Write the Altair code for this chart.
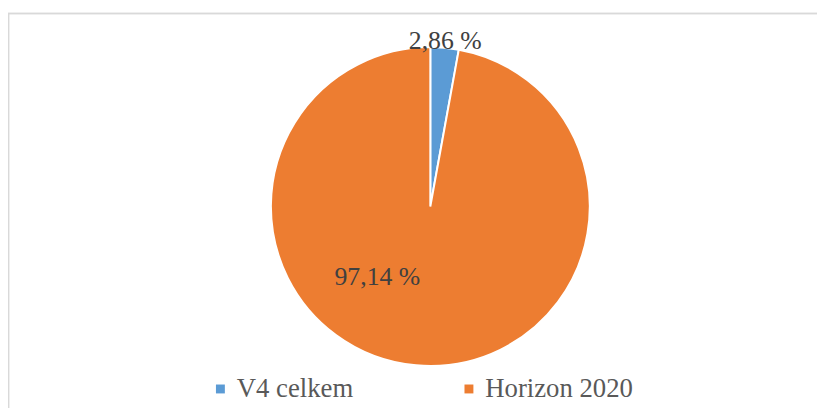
import altair as alt
import pandas as pd

categories = ["V4 celkem", "Horizon 2020"]
shares = [2.86, 97.14]
labels = ["2,86 %", "97,14 %"]
order = [0, 1]
colors = ["#5B9BD5", "#ED7D31"]

df = pd.DataFrame({"cat": categories, "share": shares, "label": labels, "ord": order})

CX, CY = 426.5, 198.5
FONT = "Liberation Serif"

base = alt.Chart(df)

arcs = base.mark_arc(radius=161, stroke="white", strokeWidth=2).encode(
    theta=alt.Theta("share:Q", stack=True),
    order=alt.Order("ord:Q"),
    color=alt.Color(
        "cat:N",
        scale=alt.Scale(domain=categories, range=colors),
        legend=alt.Legend(
            title=None,
            orient="none",
            legendX=201,
            legendY=369,
            direction="horizontal",
            symbolType="square",
            symbolSize=81,
            symbolStrokeWidth=0,
            labelFont=FONT,
            labelFontSize=27,
            labelColor="#595959",
            labelOffset=3,
            labelLimit=400,
            columnPadding=103,
            padding=0,
        ),
    ),
    x=alt.value(CX),
    y=alt.value(CY),
)

def label_layer(cat, radius, dx=0, dy=0):
    return (
        base.transform_stack(
            stack="share", as_=["s0", "s1"], groupby=[], sort=[alt.SortField("ord")]
        )
        .transform_calculate(mid="(datum.s0 + datum.s1) / 2")
        .transform_filter(alt.datum.cat == cat)
        .mark_text(
            radius=radius, dx=dx, dy=dy, font=FONT, fontSize=26, color="#404040",
            align="center", baseline="middle",
        )
        .encode(
            theta=alt.Theta("mid:Q", scale=alt.Scale(domain=[0, 100])),
            text="label:N",
            x=alt.value(CX),
            y=alt.value(CY),
        )
    )

lab_v4 = label_layer("V4 celkem", 168)
lab_h = label_layer("Horizon 2020", 89, dx=-45.5, dy=-17)

border_top = base.mark_rule(color="#d9d9d9", strokeWidth=1.5).encode(
    x=alt.value(0), x2=alt.value(817), y=alt.value(3.5), y2=alt.value(3.5)
)
border_left = base.mark_rule(color="#d9d9d9", strokeWidth=1.5).encode(
    x=alt.value(0.5), x2=alt.value(0.5), y=alt.value(3), y2=alt.value(402)
)

chart = (
    alt.layer(border_top, border_left, arcs, lab_v4, lab_h)
    .properties(width=817, height=402, autosize=alt.AutoSizeParams(type="none"), padding=0)
    .configure_view(stroke=None)
    .configure_legend(labelFont=FONT, labelFontSize=27, labelColor="#595959")
    .configure_text(font=FONT)
)

chart.save("out.html", embed_options={"renderer": "svg", "actions": False})
